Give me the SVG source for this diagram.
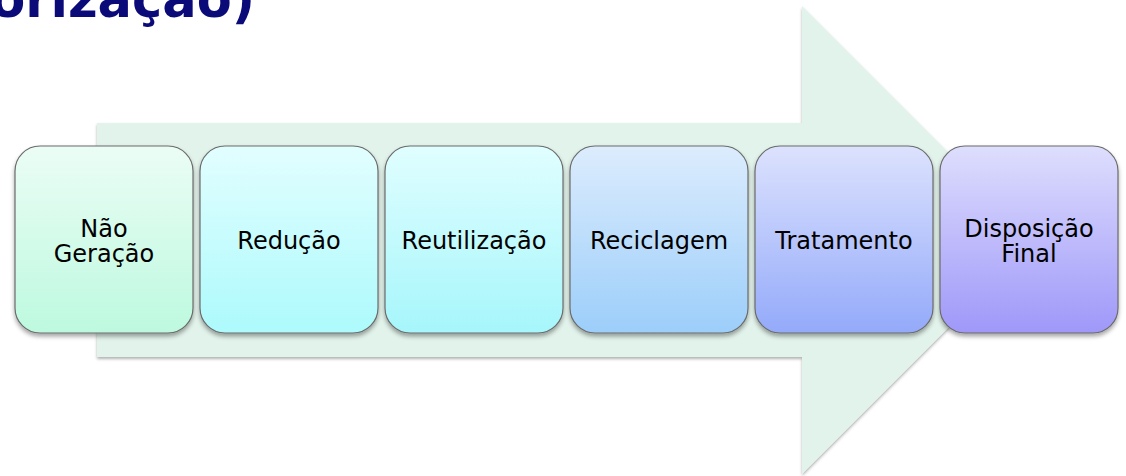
<svg xmlns="http://www.w3.org/2000/svg" width="1126" height="476" viewBox="0 0 1126 476">
  <style>
    .box { stroke: #6b6b6b; stroke-width: 1.2; filter: url(#shadow); }
    .lbl { font-family: "DejaVu Sans", Verdana, sans-serif; font-size: 24px; fill: #000; text-anchor: middle; }
    .title { font-family: "DejaVu Sans", Verdana, sans-serif; font-weight: bold; font-size: 51px; fill: #0a0a78; }
  </style>
  <defs>
    <filter id="shadow" x="-10%" y="-10%" width="120%" height="125%">
      <feDropShadow dx="0" dy="3" stdDeviation="2" flood-color="#000" flood-opacity="0.35"/>
    </filter>
    <filter id="ashadow" x="-5%" y="-5%" width="110%" height="115%">
      <feDropShadow dx="0" dy="2" stdDeviation="1.5" flood-color="#000" flood-opacity="0.3"/>
    </filter>
    <linearGradient id="g1" x1="0" y1="0" x2="0" y2="1"><stop offset="0" stop-color="#ebfdf5"/><stop offset="1" stop-color="#bdf9df"/></linearGradient>
    <linearGradient id="g2" x1="0" y1="0" x2="0" y2="1"><stop offset="0" stop-color="#e2feff"/><stop offset="1" stop-color="#adfafc"/></linearGradient>
    <linearGradient id="g3" x1="0" y1="0" x2="0" y2="1"><stop offset="0" stop-color="#e0feff"/><stop offset="1" stop-color="#a6f6fb"/></linearGradient>
    <linearGradient id="g4" x1="0" y1="0" x2="0" y2="1"><stop offset="0" stop-color="#dcecfd"/><stop offset="1" stop-color="#9ccefa"/></linearGradient>
    <linearGradient id="g5" x1="0" y1="0" x2="0" y2="1"><stop offset="0" stop-color="#dce2fd"/><stop offset="1" stop-color="#94aafa"/></linearGradient>
    <linearGradient id="g6" x1="0" y1="0" x2="0" y2="1"><stop offset="0" stop-color="#dedefd"/><stop offset="1" stop-color="#9f98f9"/></linearGradient>
  </defs>

  <text class="title" x="255" y="17" text-anchor="end">orização)</text>

  <g id="connectors">
    <polygon id="arrow" points="97,123 802,123 802,6 1036,240 802,474 802,357 97,357" fill="#e2f3eb" filter="url(#ashadow)"/>
  </g>

  <g id="n1"><rect class="box" x="15" y="146" width="178" height="187" rx="25" fill="url(#g1)"/>
    <text class="lbl" x="104" y="236.5">Não</text><text class="lbl" x="104" y="262">Geração</text></g>
  <g id="n2"><rect class="box" x="200" y="146" width="178" height="187" rx="25" fill="url(#g2)"/>
    <text class="lbl" x="289" y="249">Redução</text></g>
  <g id="n3"><rect class="box" x="385" y="146" width="178" height="187" rx="25" fill="url(#g3)"/>
    <text class="lbl" x="474" y="249">Reutilização</text></g>
  <g id="n4"><rect class="box" x="570" y="146" width="178" height="187" rx="25" fill="url(#g4)"/>
    <text class="lbl" x="659" y="249">Reciclagem</text></g>
  <g id="n5"><rect class="box" x="755" y="146" width="178" height="187" rx="25" fill="url(#g5)"/>
    <text class="lbl" x="844" y="249">Tratamento</text></g>
  <g id="n6"><rect class="box" x="940" y="146" width="178" height="187" rx="25" fill="url(#g6)"/>
    <text class="lbl" x="1029" y="236.5">Disposição</text><text class="lbl" x="1029" y="262">Final</text></g>
</svg>
